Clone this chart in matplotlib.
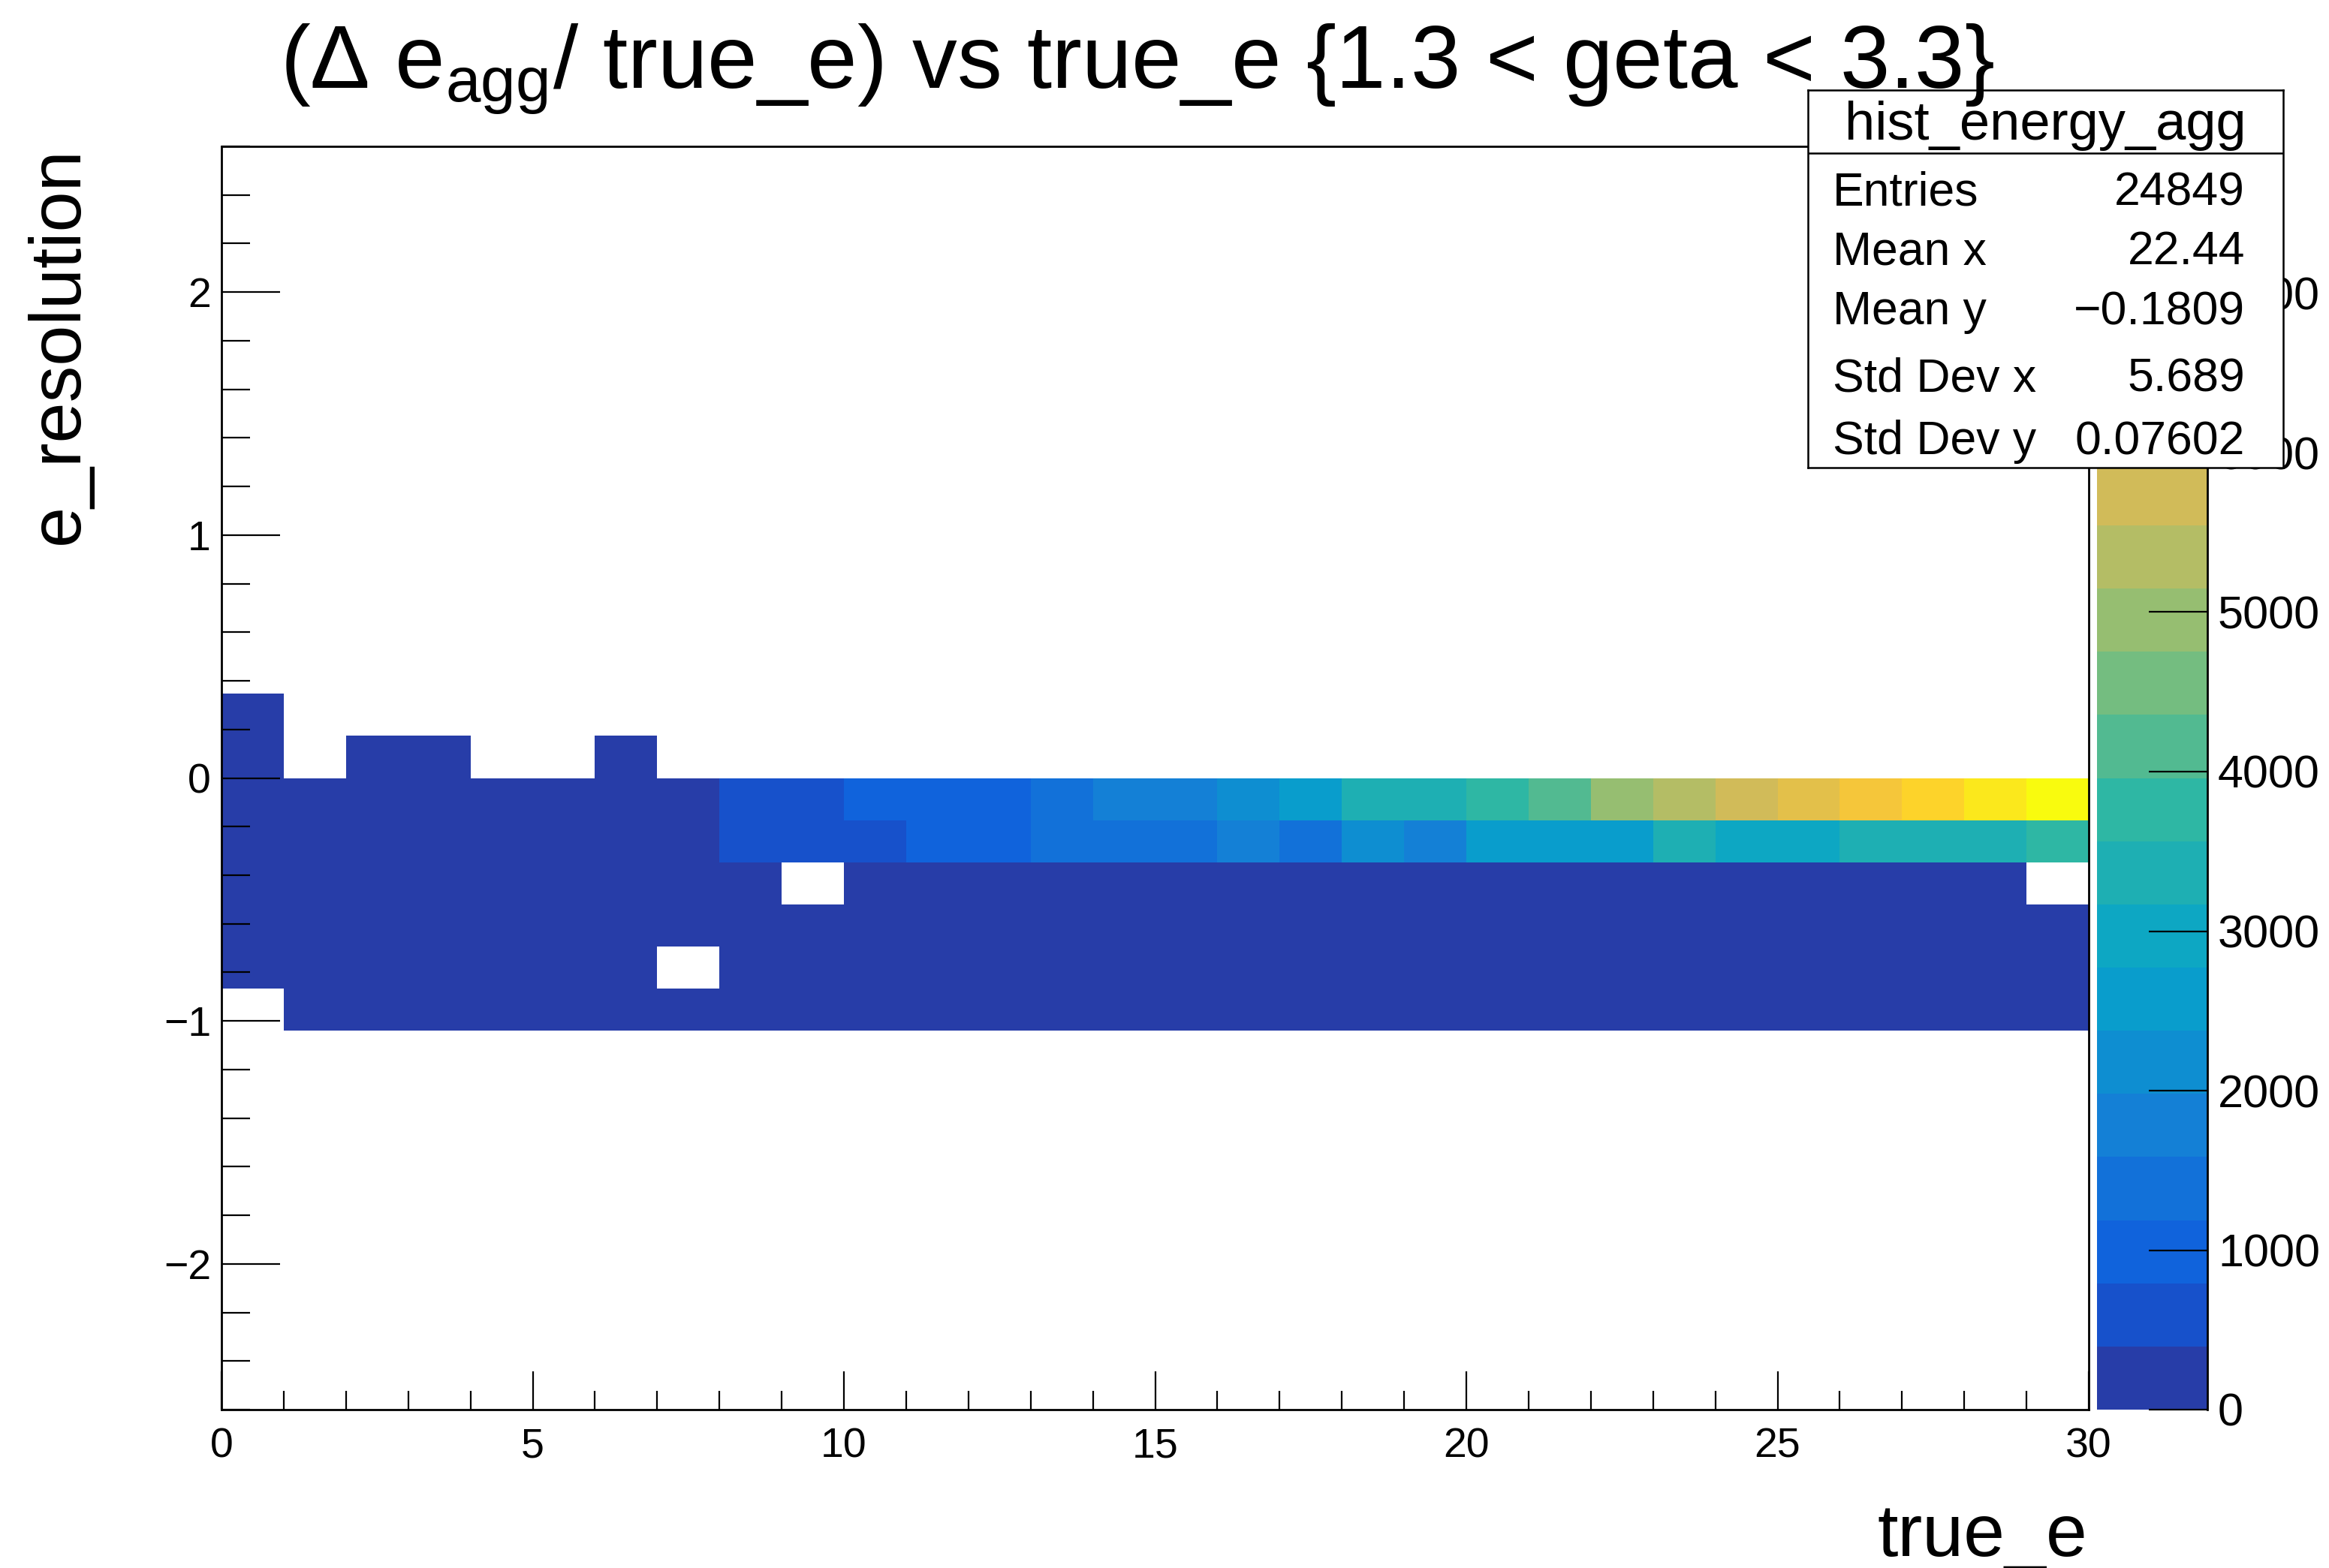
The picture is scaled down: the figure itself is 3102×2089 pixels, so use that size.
import numpy as np
import matplotlib
matplotlib.use("Agg")
import matplotlib.pyplot as plt
from matplotlib.colors import LinearSegmentedColormap, ListedColormap, BoundaryNorm
from matplotlib.ticker import MultipleLocator, FuncFormatter

plt.rcParams['font.family'] = ['Liberation Sans', 'DejaVu Sans']
plt.rcParams['mathtext.fontset'] = 'custom'
plt.rcParams['mathtext.rm'] = 'Liberation Sans'
plt.rcParams['mathtext.it'] = 'Liberation Sans:italic'
plt.rcParams['mathtext.bf'] = 'Liberation Sans:bold'

# ---- histogram definition -------------------------------------------------
n_bins_x, x_min, x_max = 30, 0.0, 30.0
n_bins_y, y_min, y_max = 30, -2.6, 2.6

# bin contents per e_resolution row (index = y bin), one entry per true_e bin
row_16 = [35] + [0] * 29
row_15 = [52, 0, 18, 24, 0, 0, 12] + [0] * 23
row_14 = [38, 21, 30, 27, 19, 24, 33, 71, 560, 690, 930, 1040, 1120, 1390, 1700,
          1830, 2150, 2610, 3280, 3430, 3780, 4210, 5010, 5370, 5740, 6150,
          6490, 6930, 7380, 7920]
row_13 = [45, 33, 41, 36, 28, 30, 42, 95, 470, 610, 720, 880, 1060, 1250, 1330,
          1480, 1690, 1420, 2090, 1810, 2470, 2550, 2700, 3300, 3020, 3110,
          3250, 3370, 3330, 3660]
row_12 = [40, 28, 22, 19, 25, 31, 36, 58, 102, 0, 150, 171, 186, 204, 215, 236,
          248, 262, 271, 283, 295, 301, 312, 318, 327, 335, 341, 350, 358, 0]
row_11 = [31, 19, 17, 14, 16, 21, 23, 37, 54, 66, 79, 84, 93, 102, 110, 118, 127,
          133, 140, 149, 155, 161, 170, 176, 183, 188, 194, 201, 207, 212]
row_10 = [22, 11, 9, 8, 10, 12, 15, 0, 30, 35, 41, 47, 52, 58, 63, 66, 72, 78,
          83, 88, 93, 99, 104, 108, 113, 117, 122, 126, 131, 135]
row_9 = [0, 6, 5, 4, 6, 7, 8, 12, 16, 19, 22, 25, 28, 31, 34, 36, 39, 42, 45, 48,
         51, 53, 56, 59, 61, 64, 67, 70, 72, 75]

rows = {16: row_16, 15: row_15, 14: row_14, 13: row_13,
        12: row_12, 11: row_11, 10: row_10, 9: row_9}

stats_labels = ["Entries", "Mean x", "Mean y", "Std Dev x", "Std Dev y"]
stats_values = ["24849", "22.44", "\u22120.1809", "5.689", "0.07602"]
hist_name = "hist_energy_agg"

z_ticks = [0, 1000, 2000, 3000, 4000, 5000, 6000, 7000]
n_contours = 20

# ---- build the 2D array ----------------------------------------------------
counts = np.zeros((n_bins_y, n_bins_x))
for iy, vals in rows.items():
    counts[iy, :] = vals
masked = np.ma.masked_where(counts <= 0, counts)
x_edges = np.linspace(x_min, x_max, n_bins_x + 1)
y_edges = np.linspace(y_min, y_max, n_bins_y + 1)
z_max = counts.max()

# ---- ROOT "bird" palette sampled into 20 contour levels ----------------------
stops = [0.0, 0.125, 0.25, 0.375, 0.5, 0.625, 0.75, 0.875, 1.0]
red = [0.2082, 0.0592, 0.0780, 0.0232, 0.1802, 0.5301, 0.8186, 0.9956, 0.9764]
green = [0.1664, 0.3599, 0.5041, 0.6419, 0.7178, 0.7492, 0.7328, 0.7862, 0.9832]
blue = [0.5293, 0.8684, 0.8385, 0.7914, 0.6425, 0.4662, 0.3499, 0.1968, 0.0539]
bird = LinearSegmentedColormap.from_list(
    "bird", list(zip(stops, zip(red, green, blue))), N=255)
level_colors = [bird(int((i + 0.99) * 255 / n_contours) / 254.0)
                for i in range(n_contours)]
cmap = ListedColormap(level_colors)
levels = np.linspace(0, z_max, n_contours + 1)
norm = BoundaryNorm(levels, n_contours, clip=True)

# ---- figure ------------------------------------------------------------------
W, H = 3102, 2089
fig = plt.figure(figsize=(W / 100, H / 100), dpi=100)


def fx(px):
    return px / W


def fy(px):
    return 1 - px / H


ax_l, ax_r, ax_t, ax_b = 295, 2782, 195, 1878
ax = fig.add_axes([fx(ax_l), fy(ax_b), fx(ax_r - ax_l), (ax_b - ax_t) / H])
mesh = ax.pcolormesh(x_edges, y_edges, masked, cmap=cmap, norm=norm,
                     linewidth=0, antialiased=False)
ax.set_xlim(x_min, x_max)
ax.set_ylim(y_min, y_max)
ax.xaxis.set_major_locator(MultipleLocator(5))
ax.xaxis.set_minor_locator(MultipleLocator(1))
ax.yaxis.set_major_locator(MultipleLocator(1))
ax.yaxis.set_minor_locator(MultipleLocator(0.2))
ax.tick_params(which='both', direction='in', top=False, right=False,
               width=1.6, color='black', labelsize=40)
ax.tick_params(axis='x', which='major', length=37, pad=17)
ax.tick_params(axis='x', which='minor', length=18)
ax.tick_params(axis='y', which='major', length=56, pad=10)
ax.tick_params(axis='y', which='minor', length=27)
ax.xaxis.set_major_formatter(FuncFormatter(lambda v, p: f"{v:g}"))
ax.yaxis.set_major_formatter(FuncFormatter(
    lambda v, p: f"{v:g}".replace("-", "\u2212")))
for s in ax.spines.values():
    s.set_linewidth(2.0)

# colour scale
cax = fig.add_axes([fx(2793), fy(ax_b), fx(2940 - 2793), (ax_b - ax_t) / H])
cb = fig.colorbar(mesh, cax=cax, ticks=z_ticks)
cb.outline.set_visible(False)
cb.minorticks_off()
cax.yaxis.set_major_formatter(FuncFormatter(lambda v, p: f"{int(v)}"))
cax.tick_params(axis='y', direction='in', length=56, width=1.6, pad=10,
                labelsize=44, right=True, left=False)
cax.plot([1, 1], [0, 1], transform=cax.transAxes, color='black', lw=2.0,
         clip_on=False)

# statistics box
bx_l, bx_r, bx_t, bx_b = 2408, 3041, 120, 623
sax = fig.add_axes([fx(bx_l), fy(bx_b), fx(bx_r - bx_l), (bx_b - bx_t) / H],
                   zorder=5)
sax.set_xlim(0, 1)
sax.set_ylim(0, 1)
sax.set_xticks([])
sax.set_yticks([])
sax.set_facecolor('white')
for s in sax.spines.values():
    s.set_linewidth(1.8)
sep = (bx_b - 204) / (bx_b - bx_t)
sax.axhline(sep, color='black', lw=1.8)
sax.text(0.5, (bx_b - 186) / (bx_b - bx_t), hist_name, ha='center',
         va='baseline', fontsize=52)
baselines = [273, 352, 432, 521, 605]
for lab, val, bl in zip(stats_labels, stats_values, baselines):
    yb = (bx_b - bl) / (bx_b - bx_t)
    sax.text((2441 - bx_l) / (bx_r - bx_l), yb, lab, ha='left', va='baseline',
             fontsize=45)
    sax.text((2990 - bx_l) / (bx_r - bx_l), yb, val, ha='right', va='baseline',
             fontsize=45)

# titles
fig.text(fx(1514), fy(117),
         r"($\Delta$ $\mathrm{e}_{\mathrm{agg}}$/ true_e) vs true_e {1.3 < geta < 3.3}",
         ha='center', va='baseline', fontsize=86, zorder=10)
fig.text(fx(2780), fy(2073), "true_e", ha='right', va='baseline', fontsize=71)
fig.text(fx(104), fy(195), "e_resolution", rotation=90, rotation_mode='anchor',
         ha='right', va='baseline', fontsize=70)

fig.savefig("out.png", dpi=100)
